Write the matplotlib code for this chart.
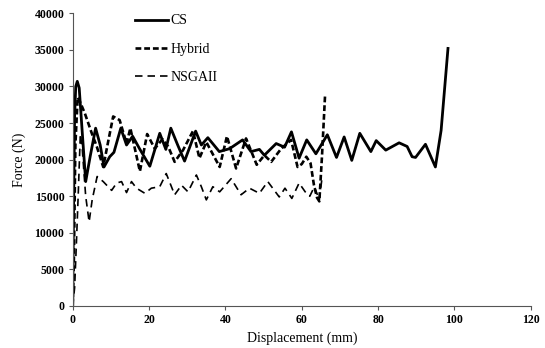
import matplotlib
matplotlib.use("Agg")
import matplotlib.pyplot as plt

# CS curve (displacement mm, force N)
cs_x = [0, 0.2, 0.5, 0.8, 1.2, 1.7, 2.4, 3.4, 4.6, 6.0, 7.2, 8.2, 9.7, 10.8, 12.6,
        14.1, 15.7, 17.5, 20.2, 22.8, 24.4, 25.7, 27.5, 29.3, 32.2, 33.7, 35.4, 38.4,
        41.1, 44.5, 46.7, 48.9, 50.2, 53.3, 55.5, 57.3, 59.3, 61.3, 63.7, 66.7, 69.1,
        71.1, 73.1, 75.2, 78.1, 79.5, 82.0, 85.5, 87.6, 88.9, 89.8, 92.4, 95.0, 96.5, 98.3]
cs_y = [0, 12000, 26000, 30000, 30700, 29800, 24500, 17000, 20500, 24300, 22000, 19000,
        20400, 21000, 24300, 22000, 23200, 21500, 19100, 23600, 21400, 24300, 22000, 19800,
        23900, 22000, 23000, 21100, 21500, 22700, 21100, 21400, 20600, 22200, 21700, 23800,
        20200, 22700, 20800, 23400, 20300, 23100, 19900, 23600, 21100, 22600, 21300, 22300,
        21800, 20400, 20300, 22100, 19000, 24000, 35200]

# Hybrid curve
hy_x = [0, 0.3, 0.7, 1.3, 2.0, 3.2, 5.0, 6.3, 8.0, 9.3, 10.6, 12.3, 14.1, 15.1, 17.6,
        19.5, 21.5, 23.5, 25.0, 26.7, 28.9, 31.5, 33.2, 35.0, 38.5, 40.4, 42.8, 45.4,
        48.2, 50.2, 52.0, 54.6, 57.2, 58.9, 60.0, 61.2, 62.3, 63.2, 64.0, 64.6, 65.3, 66.1]
hy_y = [0, 6000, 22000, 28500, 27800, 26300, 23600, 21800, 19000, 22500, 25900, 25400,
        22200, 24300, 18400, 23500, 21500, 22800, 21800, 19700, 21300, 23900, 20200, 22400,
        19000, 23200, 18800, 22900, 19300, 20600, 19700, 21500, 22700, 19000, 19400, 20400,
        19500, 16500, 14800, 14300, 20500, 28800]

# NSGAII curve
ns_x = [0, 0.5, 1.0, 1.5, 2.0, 2.5, 3.4, 4.3, 5.1, 6.4, 8.0, 10.2, 11.5, 12.8, 14.1,
        15.4, 16.7, 18.9, 20.6, 22.8, 24.5, 26.7, 28.5, 30.2, 32.4, 33.7, 35.0, 36.7,
        38.5, 41.5, 44.1, 46.3, 48.9, 51.1, 54.1, 55.6, 57.4, 59.3, 60.9, 62.1, 63.3,
        64.6, 65.3]
ns_y = [0, 2500, 9000, 16000, 23500, 21500, 15000, 11500, 14500, 17700, 17000, 15800,
        16800, 17000, 15500, 17000, 16100, 15400, 16100, 16300, 18100, 15200, 16500, 15600,
        17900, 16300, 14500, 16300, 15600, 17400, 15200, 16100, 15400, 17000, 14900, 16100,
        14700, 16800, 15600, 15000, 16300, 14500, 17500]

x_ticks = [0, 20, 40, 60, 80, 100, 120]
y_ticks = [0, 5000, 10000, 15000, 20000, 25000, 30000, 35000, 40000]

plt.rcParams['font.family'] = ['Liberation Serif', 'DejaVu Serif']

fig = plt.figure(figsize=(5.45, 3.48), dpi=100)
ax = fig.add_axes([0.1334, 0.1207, 0.8406, 0.8411])

ax.plot(cs_x, cs_y, color='black', lw=2.0, solid_joinstyle='round', label='CS')
ax.plot(hy_x, hy_y, color='black', lw=1.9, linestyle=(0, (2.2, 1.1)),
        dash_joinstyle='round', label='Hybrid')
ax.plot(ns_x, ns_y, color='black', lw=1.2, linestyle=(0, (4.5, 3.0)),
        dash_joinstyle='round', label='NSGAII')

ax.set_xlim(0, 120)
ax.set_ylim(0, 40000)
ax.set_xticks(x_ticks)
ax.set_yticks(y_ticks)
for lab in ax.get_xticklabels() + ax.get_yticklabels():
    lab.set_fontweight('bold')
    lab.set_fontsize(8.5)

ax.spines['top'].set_visible(False)
ax.spines['right'].set_visible(False)
for s in ['left', 'bottom']:
    ax.spines[s].set_color('#555555')
    ax.spines[s].set_linewidth(0.8)
ax.tick_params(direction='out', length=3, width=0.8, color='#555555', pad=3)

ax.set_xlabel('Displacement (mm)', fontsize=10, labelpad=4)
ax.set_ylabel('Force (N)', fontsize=10, labelpad=6)

ax.legend(loc='upper left', bbox_to_anchor=(0.12, 1.02), frameon=False,
          fontsize=10, handlelength=2.4, handletextpad=0.2, labelspacing=1.1,
          borderpad=0)

fig.savefig('out.png', dpi=100)
